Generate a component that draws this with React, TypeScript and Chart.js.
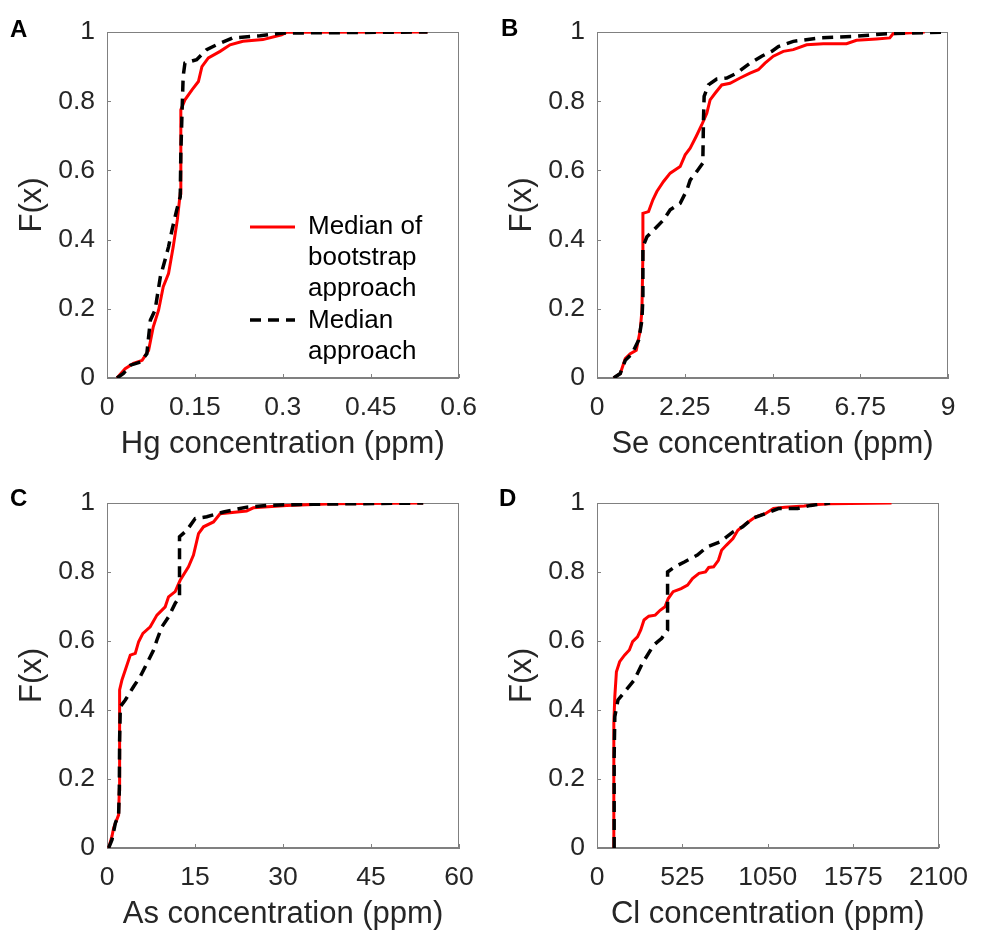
import React, { useEffect, useRef } from 'react';
import { Chart, registerables } from 'chart.js';

Chart.register(...registerables);

const FONT = '"Liberation Sans", Arial, Helvetica, sans-serif';
const TEXT = '#262626';
const AXIS = '#808080';
const RED = '#ff0000';
const BLACK = '#000000';

// ---------- shared axis data ----------
const yTicks = [0, 0.2, 0.4, 0.6, 0.8, 1];
const yTickLabels = ['0', '0.2', '0.4', '0.6', '0.8', '1'];
const yTitle = 'F(x)';

const bootLabel = 'Median of bootstrap approach';
const medLabel = 'Median approach';
const legendBootLines = ['Median of', 'bootstrap', 'approach'];
const legendMedLines = ['Median', 'approach'];

// ---------- Panel A: Hg ----------
const hgTicks = [0, 0.15, 0.3, 0.45, 0.6];
const hgTickLabels = ['0', '0.15', '0.3', '0.45', '0.6'];
const hgTitle = 'Hg concentration (ppm)';
const hgBootX = [0.017, 0.031, 0.045, 0.06, 0.071, 0.079, 0.088, 0.096, 0.105, 0.113, 0.12, 0.125, 0.126, 0.126, 0.133, 0.145, 0.156, 0.162, 0.173, 0.193, 0.21, 0.232, 0.266, 0.298, 0.306, 0.547];
const hgBootY = [0, 0.027, 0.042, 0.051, 0.08, 0.148, 0.196, 0.264, 0.302, 0.379, 0.457, 0.534, 0.65, 0.775, 0.804, 0.833, 0.857, 0.9, 0.925, 0.944, 0.963, 0.973, 0.978, 0.992, 0.999, 1];
const hgMedX = [0.017, 0.028, 0.04, 0.057, 0.068, 0.074, 0.082, 0.091, 0.099, 0.105, 0.111, 0.119, 0.125, 0.126, 0.128, 0.13, 0.133, 0.153, 0.17, 0.187, 0.215, 0.261, 0.3, 0.547];
const hgMedY = [0, 0.013, 0.037, 0.046, 0.07, 0.167, 0.196, 0.292, 0.341, 0.379, 0.428, 0.486, 0.524, 0.65, 0.765, 0.872, 0.91, 0.92, 0.949, 0.963, 0.983, 0.989, 0.997, 1];

// ---------- Panel B: Se ----------
const seTicks = [0, 2.25, 4.5, 6.75, 9];
const seTickLabels = ['0', '2.25', '4.5', '6.75', '9'];
const seTitle = 'Se concentration (ppm)';
const seBootX = [0.427, 0.597, 0.725, 0.853, 1.007, 1.109, 1.152, 1.177, 1.177, 1.322, 1.433, 1.535, 1.706, 1.877, 2.133, 2.261, 2.389, 2.542, 2.687, 2.815, 2.9, 3.028, 3.199, 3.412, 3.668, 3.924, 4.137, 4.308, 4.521, 4.777, 5.033, 5.374, 5.801, 6.398, 6.654, 7.166, 7.507, 7.592, 8.403];
const seBootY = [0, 0.013, 0.056, 0.07, 0.08, 0.138, 0.196, 0.36, 0.476, 0.481, 0.515, 0.539, 0.568, 0.592, 0.611, 0.645, 0.664, 0.698, 0.732, 0.765, 0.804, 0.823, 0.847, 0.852, 0.867, 0.881, 0.891, 0.91, 0.93, 0.944, 0.949, 0.963, 0.966, 0.966, 0.976, 0.98, 0.983, 0.995, 1];
const seMedX = [0.427, 0.597, 0.725, 0.896, 1.066, 1.152, 1.177, 1.177, 1.28, 1.535, 1.706, 1.877, 2.133, 2.304, 2.389, 2.559, 2.713, 2.73, 2.747, 2.858, 3.071, 3.327, 3.583, 3.924, 4.223, 4.479, 4.65, 5.033, 5.716, 6.569, 7.422, 9];
const seMedY = [0, 0.013, 0.051, 0.07, 0.109, 0.167, 0.235, 0.379, 0.408, 0.437, 0.457, 0.486, 0.505, 0.543, 0.572, 0.597, 0.621, 0.746, 0.814, 0.847, 0.864, 0.867, 0.881, 0.91, 0.93, 0.944, 0.958, 0.973, 0.983, 0.987, 0.995, 1];

// ---------- Panel C: As ----------
const asTicks = [0, 15, 30, 45, 60];
const asTickLabels = ['0', '15', '30', '45', '60'];
const asTitle = 'As concentration (ppm)';
const asBootX = [0.28, 0.85, 1.13, 1.98, 2.1, 2.15, 2.15, 2.55, 3.12, 3.97, 4.82, 5.39, 6.12, 7.37, 8.51, 9.92, 10.49, 11.62, 12.47, 13.89, 14.74, 15.6, 16.45, 18.15, 19.28, 23.8, 24.95, 30.6, 38.6, 53.9];
const asBootY = [0, 0.034, 0.058, 0.096, 0.169, 0.362, 0.458, 0.487, 0.516, 0.559, 0.564, 0.598, 0.622, 0.641, 0.675, 0.699, 0.728, 0.743, 0.776, 0.815, 0.849, 0.911, 0.931, 0.945, 0.969, 0.977, 0.986, 0.993, 0.998, 1];
const asMedX = [0.28, 0.85, 1.42, 1.98, 2.1, 2.15, 2.27, 3.12, 4.54, 5.67, 6.8, 7.94, 8.51, 9.36, 10.49, 11.62, 12.36, 12.36, 12.36, 13.61, 15.03, 17.01, 19.85, 23.82, 27.2, 32.9, 53.9];
const asMedY = [0, 0.024, 0.072, 0.096, 0.169, 0.313, 0.41, 0.429, 0.468, 0.497, 0.535, 0.574, 0.603, 0.641, 0.67, 0.709, 0.728, 0.796, 0.902, 0.921, 0.955, 0.96, 0.974, 0.988, 0.993, 0.996, 1];

// ---------- Panel D: Cl ----------
const clTicks = [0, 525, 1050, 1575, 2100];
const clTickLabels = ['0', '525', '1050', '1575', '2100'];
const clTitle = 'Cl concentration (ppm)';
const clBootX = [99.5, 103.5, 103.5, 109.5, 119.4, 139.3, 169.2, 199, 219, 249, 269, 289, 318.5, 358, 388, 418, 438, 468, 517.5, 557, 587, 627, 667, 687, 717, 746.5, 766, 796, 836, 866, 915.6, 975, 1035, 1085, 1155, 1274, 1354, 1433, 1811];
const clBootY = [0, 0.169, 0.362, 0.439, 0.511, 0.54, 0.559, 0.574, 0.598, 0.612, 0.632, 0.661, 0.672, 0.675, 0.689, 0.699, 0.723, 0.743, 0.752, 0.762, 0.781, 0.796, 0.8, 0.813, 0.815, 0.834, 0.863, 0.878, 0.897, 0.921, 0.94, 0.96, 0.969, 0.984, 0.988, 0.991, 0.996, 0.998, 1];
const clMedX = [105.5, 105.5, 109.5, 129, 179, 229, 278.7, 348, 398, 434, 434, 434, 477.7, 537, 617, 677, 756, 836, 896, 955, 1035, 1115, 1234, 1314, 1433];
const clMedY = [0, 0.265, 0.381, 0.429, 0.458, 0.487, 0.535, 0.588, 0.608, 0.632, 0.747, 0.8, 0.815, 0.829, 0.849, 0.873, 0.887, 0.916, 0.931, 0.955, 0.969, 0.984, 0.984, 0.993, 1];

const zip = (xs: number[], ys: number[]) => xs.map((x, i) => ({ x, y: ys[i] }));

type PanelProps = {
  letter: string;
  letterX: number;
  letterY: number;
  left: number;
  top: number;
  width: number;
  height: number;
  caLeft: number;
  caTop: number;
  caRight: number;
  caBottom: number;
  xTicks: number[];
  xTickLabels: string[];
  xTitle: string;
  bootX: number[];
  bootY: number[];
  medX: number[];
  medY: number[];
  showLegend?: boolean;
};

function Panel(p: PanelProps) {
  const ref = useRef<HTMLCanvasElement | null>(null);

  useEffect(() => {
    const canvas = ref.current;
    if (!canvas) return;
    const padTop = p.caTop - p.top;
    const padRight = p.left + p.width - p.caRight;
    const xAxisH = p.top + p.height - p.caBottom;
    const yAxisW = p.caLeft - p.left;
    const titleSize = 31;
    const tickSize = 26.5;
    const xTitlePadBottom = xAxisH - 66 - titleSize / 2;
    const yTitlePadTop = yAxisW - 75 - titleSize / 2;

    const frame = {
      id: 'frame',
      beforeDatasetsDraw(chart: any) {
        const { ctx, chartArea: a, scales } = chart;
        ctx.save();
        ctx.strokeStyle = AXIS;
        ctx.lineWidth = 1;
        ctx.strokeRect(Math.round(a.left) + 0.5, Math.round(a.top) + 0.5, Math.round(a.right - a.left) - 1, Math.round(a.bottom - a.top) - 1);
        ctx.beginPath();
        p.xTicks.forEach((v) => {
          const x = Math.round(scales.x.getPixelForValue(v)) + 0.5;
          ctx.moveTo(x, a.bottom);
          ctx.lineTo(x, a.bottom - 4);
        });
        yTicks.forEach((v) => {
          const y = Math.round(scales.y.getPixelForValue(v)) + 0.5;
          ctx.moveTo(a.left, y);
          ctx.lineTo(a.left + 4, y);
        });
        ctx.stroke();
        ctx.restore();
      },
      afterDraw(chart: any) {
        const { ctx } = chart;
        ctx.save();
        ctx.fillStyle = '#000';
        ctx.font = `bold 24px ${FONT}`;
        ctx.textBaseline = 'alphabetic';
        ctx.textAlign = 'left';
        ctx.fillText(p.letter, p.letterX - p.left, p.letterY - p.top);
        if (p.showLegend) {
          const ds = chart.data.datasets;
          const lx0 = 250 - p.left;
          const lx1 = 295 - p.left;
          const tx = 308 - p.left;
          ctx.font = `26px ${FONT}`;
          ctx.fillStyle = '#000';
          // bootstrap entry
          ctx.beginPath();
          ctx.strokeStyle = ds[0].borderColor;
          ctx.lineWidth = ds[0].borderWidth;
          ctx.setLineDash([]);
          ctx.moveTo(lx0, 227 - p.top);
          ctx.lineTo(lx1, 227 - p.top);
          ctx.stroke();
          legendBootLines.forEach((t, i) => ctx.fillText(t, tx, 234 - p.top + i * 31));
          // median entry
          ctx.beginPath();
          ctx.strokeStyle = ds[1].borderColor;
          ctx.lineWidth = ds[1].borderWidth;
          ctx.setLineDash(ds[1].borderDash);
          ctx.moveTo(lx0, 320 - p.top);
          ctx.lineTo(lx1, 320 - p.top);
          ctx.stroke();
          ctx.setLineDash([]);
          legendMedLines.forEach((t, i) => ctx.fillText(t, tx, 328 - p.top + i * 31));
        }
        ctx.restore();
      },
    };

    const chart = new Chart(canvas, {
      type: 'line',
      data: {
        datasets: [
          {
            label: bootLabel,
            data: zip(p.bootX, p.bootY),
            borderColor: RED,
            backgroundColor: RED,
            borderWidth: 3,
            pointRadius: 0,
            tension: 0,
            fill: false,
            order: 2,
          },
          {
            label: medLabel,
            data: zip(p.medX, p.medY),
            borderColor: BLACK,
            backgroundColor: BLACK,
            borderWidth: 3.5,
            borderDash: [11, 7],
            pointRadius: 0,
            tension: 0,
            fill: false,
            order: 1,
          },
        ],
      },
      options: {
        responsive: false,
        animation: false,
        devicePixelRatio: 1,
        layout: { padding: { top: padTop, right: padRight, bottom: 0, left: 0 } },
        plugins: { legend: { display: false }, tooltip: { enabled: false } },
        scales: {
          x: {
            type: 'linear',
            position: 'bottom',
            min: p.xTicks[0],
            max: p.xTicks[p.xTicks.length - 1],
            afterBuildTicks: (s: any) => {
              s.ticks = p.xTicks.map((v) => ({ value: v }));
            },
            afterFit: (s: any) => {
              s.height = xAxisH;
            },
            grid: { display: true, drawOnChartArea: false, drawTicks: false },
            border: { display: true, color: AXIS, width: 1 },
            ticks: {
              padding: 14,
              color: TEXT,
              autoSkip: false,
              maxRotation: 0,
              font: { family: FONT, size: tickSize },
              callback: (_v: any, i: number) => p.xTickLabels[i],
            },
            title: {
              display: true,
              text: p.xTitle,
              color: TEXT,
              font: { family: FONT, size: titleSize, lineHeight: 1 },
              padding: { top: 0, bottom: xTitlePadBottom },
            },
          },
          y: {
            type: 'linear',
            position: 'left',
            min: 0,
            max: 1,
            afterBuildTicks: (s: any) => {
              s.ticks = yTicks.map((v) => ({ value: v }));
            },
            afterFit: (s: any) => {
              s.width = yAxisW;
            },
            grid: { display: true, drawOnChartArea: false, drawTicks: false },
            border: { display: true, color: AXIS, width: 1 },
            ticks: {
              padding: 12,
              color: TEXT,
              autoSkip: false,
              font: { family: FONT, size: tickSize },
              callback: (_v: any, i: number) => yTickLabels[i],
            },
            title: {
              display: true,
              text: yTitle,
              color: TEXT,
              font: { family: FONT, size: titleSize, lineHeight: 1 },
              padding: { top: yTitlePadTop, bottom: 0 },
            },
          },
        },
      },
      plugins: [frame],
    } as any);

    return () => chart.destroy();
  }, []);

  return (
    <canvas
      ref={ref}
      width={p.width}
      height={p.height}
      style={{ position: 'absolute', left: p.left, top: p.top, width: p.width, height: p.height }}
    />
  );
}

export default function App() {
  return (
    <div
      style={{
        position: 'absolute',
        left: 0,
        top: 0,
        width: 982,
        height: 930,
        overflow: 'hidden',
        background: '#fff',
      }}
    >
      <Panel
        letter="A" letterX={10} letterY={37}
        left={0} top={0} width={491} height={465}
        caLeft={107} caTop={32} caRight={459} caBottom={378}
        xTicks={hgTicks} xTickLabels={hgTickLabels} xTitle={hgTitle}
        bootX={hgBootX} bootY={hgBootY} medX={hgMedX} medY={hgMedY}
        showLegend
      />
      <Panel
        letter="B" letterX={501} letterY={36}
        left={491} top={0} width={491} height={465}
        caLeft={597} caTop={32} caRight={948} caBottom={378}
        xTicks={seTicks} xTickLabels={seTickLabels} xTitle={seTitle}
        bootX={seBootX} bootY={seBootY} medX={seMedX} medY={seMedY}
      />
      <Panel
        letter="C" letterX={10} letterY={506}
        left={0} top={465} width={491} height={465}
        caLeft={107} caTop={503} caRight={459} caBottom={848}
        xTicks={asTicks} xTickLabels={asTickLabels} xTitle={asTitle}
        bootX={asBootX} bootY={asBootY} medX={asMedX} medY={asMedY}
      />
      <Panel
        letter="D" letterX={499} letterY={506}
        left={491} top={465} width={491} height={465}
        caLeft={597} caTop={503} caRight={948} caBottom={848}
        xTicks={clTicks} xTickLabels={clTickLabels} xTitle={clTitle}
        bootX={clBootX} bootY={clBootY} medX={clMedX} medY={clMedY}
      />
    </div>
  );
}
